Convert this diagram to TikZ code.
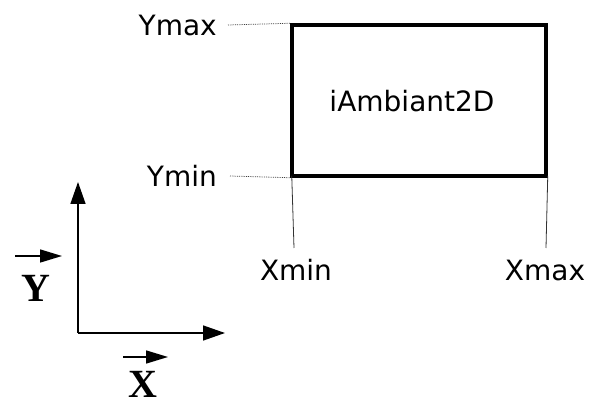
\documentclass[tikz,border=0pt]{standalone}
\usepackage{fontspec}
\setmainfont{DejaVu Sans}
\newfontfamily\serifbold{Liberation Serif}
\usetikzlibrary{arrows.meta}
\begin{document}
\begin{tikzpicture}[x=1pt,y=-1pt,
  lbl/.style={inner sep=0pt,font=\fontsize{28}{30}\selectfont},
  vec/.style={inner sep=0pt,text depth=0pt,anchor=base,font=\serifbold\bfseries\fontsize{40}{42}\selectfont},
  guide/.style={line width=0.8pt,black!75,densely dotted},
  vguide/.style={line width=0.8pt,black!80},
  axis/.style={line width=1.5pt,-{Triangle[length=22pt,width=15pt]}},
  smallvec/.style={line width=1.5pt,-{Triangle[length=22pt,width=13pt]}},
  box/.style={draw,line width=3.5pt,minimum width=254pt,minimum height=151pt,inner sep=0pt}]
\useasboundingbox (0,0) rectangle (590,406);
\node[box] (rect) at (419,100.5) {};
\node[lbl] (amb) at (412,101) {iAmbiant2D};
\node[lbl,anchor=east] (ymax) at (217,25) {Ymax};
\node[lbl,anchor=east] (ymin) at (217,176) {Ymin};
\node[lbl] (xmin) at (296,270) {Xmin};
\node[lbl] (xmax) at (545,270) {Xmax};
\coordinate (ymaxs) at (228,25);
\coordinate (ymins) at (230,176);
\coordinate (xmine) at (294,248);
\coordinate (xmaxe) at (546,248);
\draw[guide] (ymaxs) -- (rect.north west);
\draw[guide] (ymins) -- (rect.south west);
\draw[vguide] ([xshift=1.5pt,yshift=2pt]rect.south west) -- (xmine);
\draw[vguide] ([yshift=2pt]rect.south east) -- (xmaxe);
% axes
\coordinate (o) at (78,333);
\coordinate (ytip) at (78,182);
\coordinate (xtip) at (225,333);
\draw[axis] (o) -- (ytip);
\draw[axis] (o) -- (xtip);
\node[vec] (ylab) at (36,302) {Y};
\node[vec] (xlab) at (143,398) {X};
\coordinate (ya) at (15,256);
\coordinate (yb) at (62,256);
\coordinate (xa) at (123,357);
\coordinate (xb) at (168,357);
\draw[smallvec] (ya) -- (yb);
\draw[smallvec] (xa) -- (xb);
\end{tikzpicture}
\end{document}
